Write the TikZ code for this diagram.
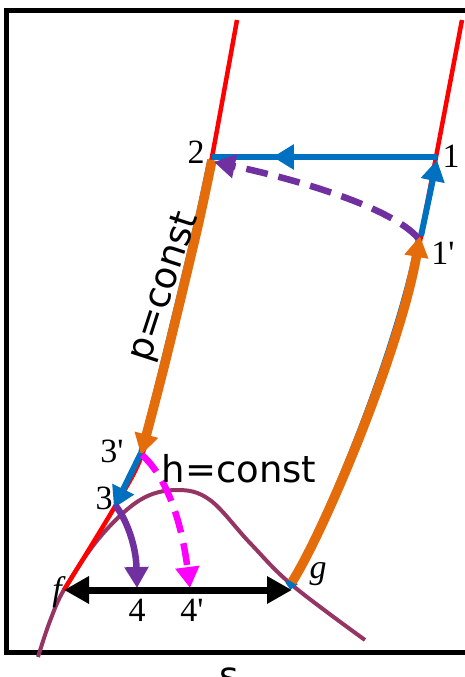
\documentclass[tikz,border=0pt]{standalone}
\usepackage{fontspec}
\setmainfont{Liberation Serif}
\newfontfamily\sansf{DejaVu Sans}
\usetikzlibrary{arrows.meta,decorations.markings}
\definecolor{cblue}{HTML}{0070C0}
\definecolor{corange}{HTML}{E46C0A}
\definecolor{cpurple}{HTML}{7030A0}
\definecolor{cdome}{HTML}{953563}
\definecolor{cmag}{HTML}{FF00FF}
\definecolor{cred}{HTML}{FF0000}
\begin{document}
\begin{tikzpicture}[x=1pt,y=-1pt,
  redline/.style={cred,line width=4.5pt},
  bluethin/.style={cblue,line width=3.5pt},
  orangeline/.style={corange,line width=9.5pt},
  bluearrow/.style={cblue,line width=6pt},
  tip/.style={-{Triangle[length=21pt,width=23pt]}},
  numlabel/.style={font=\fontsize{34}{40}\selectfont,inner sep=0pt},
  sanslabel/.style={font=\sansf\fontsize{37}{44}\selectfont,inner sep=0pt}]
\useasboundingbox (0,0) rectangle (465,677);
% frame
\draw[line width=5pt] (6.5,10.5) rectangle (480,652.5);
% points
\coordinate (p1) at (437,157);
\coordinate (p2) at (212,157);
\coordinate (p1p) at (421,236);
\coordinate (p3p) at (141,453);
\coordinate (p3) at (114,508);
\coordinate (pf) at (64,590);
\coordinate (pg) at (292,590);
\coordinate (p4) at (137,588);
\coordinate (p4p) at (190,588);
% dome
\draw[cdome,line width=4pt] plot[smooth,tension=0.6] coordinates {(38,657) (50,621) (65,588) (100,537) (140,500) (177,490) (210,500) (250,543) (292,585) (365,640)};
% left isobar
\draw[redline] plot[smooth] coordinates {(237,20) (212,157) (197,230) (165,363) (143,452) (117,503) (64,590)};
% right isobar
\draw[redline] (462,20) -- (421,236) .. controls (400,350) and (325,530) .. (292,582);
% blue thin under orange
\draw[bluethin,xshift=-3pt] plot[smooth] coordinates {(212,160) (197,230) (165,363) (143,452)};
\draw[bluethin,xshift=-3pt] (292,584) .. controls (325,530) and (400,350) .. (421,236);
\draw[cblue,line width=9pt] (289,580) -- (294,587);
% orange processes
\draw[orangeline,tip] plot[smooth] coordinates {(212,160) (197,230) (165,363) (141,455)};
\draw[orangeline,tip] (292,582) .. controls (325,530) and (400,350) .. (420,236);
% blue 1'->1
\draw[bluearrow,tip] (p1p) -- (437,160);
% blue 1->2 with mid arrow
\draw[bluearrow,postaction={decorate},decoration={markings,mark=at position 0.73 with {\arrow{Triangle[length=21pt,width=24pt]}}}] (p1) -- (p2);
% purple dashed 1'->2
\draw[cpurple,line width=6.5pt,dash pattern=on 22pt off 11pt,tip] (418,238) .. controls (392,208) and (300,180) .. (214,162);
% blue 3'->3
\draw[bluearrow,tip] (p3p) -- (p3);
% purple 3->4
\draw[cpurple,line width=6.5pt,tip] (115,505) .. controls (126,518) and (136,545) .. (p4);
% magenta dashed 3'->4'
\draw[cmag,line width=6.5pt,dash pattern=on 22pt off 11pt,tip] (142,455) .. controls (168,478) and (182,525) .. (p4p);
% f-g double arrow
\draw[line width=7pt,{Triangle[length=25pt,width=26pt]}-{Triangle[length=25pt,width=26pt]}] (pf) -- (pg);
% labels
\node[numlabel] (l2) at (196,152) {2};
\node[numlabel] (l1) at (451,156) {1};
\node[numlabel] (l1p) at (443,253) {1\textquotesingle};
\node[numlabel] (l3p) at (112,451) {3\textquotesingle};
\node[numlabel] (l3) at (104,498) {3};
\node[numlabel,font=\itshape\fontsize{34}{40}\selectfont] (lf) at (57,592) {f};
\node[numlabel,font=\itshape\fontsize{34}{40}\selectfont] (lg) at (318,574) {g};
\node[numlabel] (l4) at (137,610) {4};
\node[numlabel] (l4p) at (192,610) {4\textquotesingle};
\node[sanslabel] (hc) at (239,469) {h=const};
\node[sanslabel,rotate=72] (pc) at (165,287) {p=const};
\node[sanslabel,anchor=base] (sl) at (229,688) {s};
\end{tikzpicture}
\end{document}
